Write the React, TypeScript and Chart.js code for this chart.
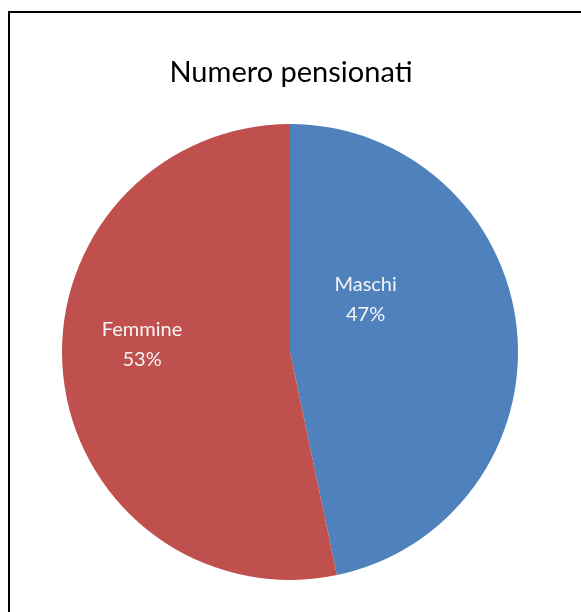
import React, { useEffect, useRef } from "react";
import { Chart, registerables } from "chart.js";

Chart.register(...registerables);

const TITLE = "Numero pensionati";
const categories = ["Maschi", "Femmine"];
const values = [46.7, 53.3];
const colors = ["#4F81BD", "#C0504D"];
// label placement: [angle from top (deg, clockwise), distance as fraction of radius]
const labelPlacement = [
  [54, 0.41],
  [273.5, 0.65],
];

const FONT = "Lato, 'Open Sans', sans-serif";

const overlayPlugin = {
  id: "overlay",
  beforeDraw(chart: any) {
    const { ctx, width, height } = chart;
    ctx.save();
    ctx.fillStyle = "#ffffff";
    ctx.fillRect(0, 0, width, height);
    ctx.strokeStyle = "#000000";
    ctx.lineWidth = 2;
    ctx.beginPath();
    ctx.moveTo(9, height + 5);
    ctx.lineTo(9, 12);
    ctx.lineTo(width + 5, 12);
    ctx.stroke();
    ctx.restore();
  },
  afterDraw(chart: any) {
    const { ctx } = chart;
    ctx.save();
    ctx.fillStyle = "#000000";
    ctx.font = `29px ${FONT}`;
    ctx.textAlign = "center";
    ctx.textBaseline = "middle";
    ctx.fillText(TITLE, 291, 73);

    const meta = chart.getDatasetMeta(0);
    const total = values.reduce((a, b) => a + b, 0);
    meta.data.forEach((arc: any, i: number) => {
      const [angDeg, frac] = labelPlacement[i];
      const a = (angDeg * Math.PI) / 180;
      const r = arc.outerRadius * frac;
      const x = arc.x + Math.sin(a) * r;
      const y = arc.y - Math.cos(a) * r;
      ctx.fillStyle = "#f4f4f4";
      ctx.font = `20px ${FONT}`;
      ctx.textAlign = "center";
      ctx.textBaseline = "middle";
      ctx.fillText(categories[i], x, y - 13);
      ctx.fillText(Math.round((values[i] / total) * 100) + "%", x, y + 17);
    });
    ctx.restore();
  },
};

export default function App() {
  const ref = useRef<HTMLCanvasElement>(null);
  useEffect(() => {
    if (!ref.current) return;
    const chart = new Chart(ref.current, {
      type: "pie",
      data: {
        labels: categories,
        datasets: [
          {
            data: values,
            backgroundColor: colors,
            borderWidth: 0,
          },
        ],
      },
      options: {
        animation: false,
        responsive: false,
        layout: { padding: { left: 62, right: 63, top: 124, bottom: 32 } },
        plugins: {
          legend: { display: false },
          tooltip: { enabled: false },
          title: { display: false },
        },
      },
      plugins: [overlayPlugin],
    });
    return () => chart.destroy();
  }, []);
  return (
    <div style={{ position: "fixed", left: 0, top: 0, width: 581, height: 612 }}>
      <canvas ref={ref} width={581} height={612} style={{ width: 581, height: 612 }} />
    </div>
  );
}
